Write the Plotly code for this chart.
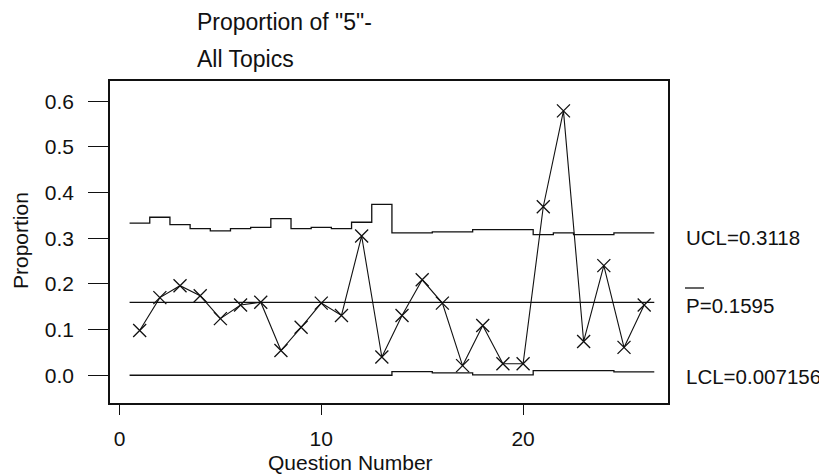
import plotly.graph_objects as go

# ---- data ----
questions = list(range(1, 27))
proportion = [0.098, 0.170, 0.196, 0.174, 0.124, 0.154, 0.160, 0.054, 0.105, 0.158,
              0.131, 0.305, 0.040, 0.131, 0.209, 0.158, 0.021, 0.109, 0.025, 0.025,
              0.369, 0.579, 0.074, 0.240, 0.061, 0.154]
ucl = [0.333, 0.346, 0.330, 0.321, 0.316, 0.321, 0.324, 0.343, 0.321, 0.324,
       0.321, 0.335, 0.374, 0.312, 0.312, 0.314, 0.314, 0.319, 0.319, 0.319,
       0.308, 0.312, 0.308, 0.308, 0.3118, 0.3118]
lcl = [0, 0, 0, 0, 0, 0, 0, 0, 0, 0,
       0, 0, 0, 0.008, 0.008, 0.005, 0.005, 0.001, 0.001, 0.001,
       0.010, 0.010, 0.010, 0.010, 0.007156, 0.007156]
p_bar = 0.1595
x_ticks = [0, 10, 20]
y_ticks = [0.0, 0.1, 0.2, 0.3, 0.4, 0.5, 0.6]

FONT = "Liberation Sans, Arial, sans-serif"
BLACK = "#111111"

# step x positions: limits span each subgroup from i-0.5 to i+0.5
step_x = [questions[0] - 0.5] + questions + [questions[-1] + 0.5]

fig = go.Figure()
for lim in (ucl, lcl):
    fig.add_trace(go.Scatter(
        x=step_x, y=[lim[0]] + lim + [lim[-1]], mode="lines",
        line=dict(color=BLACK, width=1.3, shape="hvh"), hoverinfo="skip"))
fig.add_trace(go.Scatter(
    x=[step_x[0], step_x[-1]], y=[p_bar, p_bar], mode="lines",
    line=dict(color=BLACK, width=1.3), hoverinfo="skip"))
fig.add_trace(go.Scatter(
    x=questions, y=proportion, mode="lines+markers",
    line=dict(color=BLACK, width=1.1),
    marker=dict(symbol="x-thin", size=13, color=BLACK,
                line=dict(color=BLACK, width=1.3))))

# page body has an 8px margin; figure is sized so it ends at the window edge
OFF = 8
W, H = 827 - OFF, 475 - OFF
# plot area in screen pixels
X0, X1, Y0, Y1 = 110, 668, 81, 403
L, T = X0 - OFF, Y0 - OFF
R, B = 827 - X1, 475 - Y1
pw, ph = X1 - X0, Y1 - Y0

def px(x):
    return (x - X0) / pw

def py(y):
    return (Y1 - y) / ph

annots = [
    dict(text='Proportion of "5"-', x=px(196), y=py(22), xanchor="left", yanchor="middle",
         font=dict(size=23)),
    dict(text="All Topics", x=px(196), y=py(59), xanchor="left", yanchor="middle",
         font=dict(size=23)),
    dict(text="Proportion", x=px(20), y=py(241), xanchor="center", yanchor="middle",
         textangle=-90, font=dict(size=21)),
    dict(text="Question Number", x=px(350), y=py(462), xanchor="center", yanchor="middle",
         font=dict(size=21)),
    dict(text="UCL=0.3118", x=px(685), y=py(237), xanchor="left", yanchor="middle",
         font=dict(size=20.5)),
    dict(text="P=0.1595", x=px(685), y=py(305), xanchor="left", yanchor="middle",
         font=dict(size=20.5)),
    dict(text="LCL=0.007156", x=px(685), y=py(376), xanchor="left", yanchor="middle",
         font=dict(size=20.5)),
]
for a in annots:
    a.update(xref="paper", yref="paper", showarrow=False, borderpad=0)
    a["font"].update(family=FONT, color=BLACK)

fig.update_layout(
    width=W, height=H,
    margin=dict(l=L, r=R, t=T, b=B, autoexpand=False),
    paper_bgcolor="white", plot_bgcolor="white",
    showlegend=False,
    font=dict(family=FONT, color=BLACK),
    annotations=annots,
    shapes=[dict(type="line", xref="paper", yref="paper",
                 x0=px(685), x1=px(704), y0=py(288), y1=py(288),
                 line=dict(color=BLACK, width=1.3))],
)
fig.update_xaxes(range=[-0.47, 27.18], tickvals=x_ticks, ticks="outside", ticklen=10,
                 tickwidth=1.3, tickcolor=BLACK, showline=True, linecolor=BLACK,
                 linewidth=1.5, mirror=True, showgrid=False, zeroline=False,
                 tickfont=dict(size=21, family=FONT, color=BLACK), ticklabelstandoff=6)
fig.update_yaxes(range=[-0.0608, 0.6444], tickvals=y_ticks, tickformat=".1f",
                 ticks="outside", ticklen=20, tickwidth=1.3, tickcolor=BLACK,
                 showline=True, linecolor=BLACK, linewidth=1.5, mirror=True,
                 showgrid=False, zeroline=False,
                 tickfont=dict(size=21, family=FONT, color=BLACK), ticklabelstandoff=10)

fig.write_html("out.html")
